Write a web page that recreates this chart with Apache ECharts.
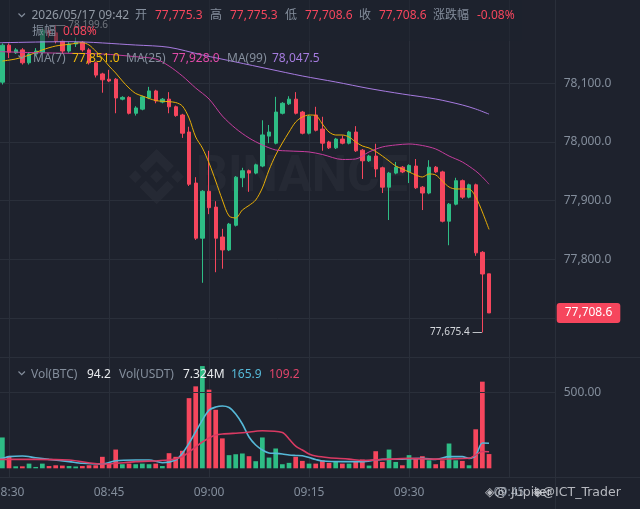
<!DOCTYPE html>
<html><head><meta charset="utf-8">
<script src="https://cdn.jsdelivr.net/npm/echarts@6/dist/echarts.min.js"></script>
<style>html,body{margin:0;padding:0;background:#1e222d;}#c{width:640px;height:509px;}</style>
</head><body><div id="c"></div>
<script>
const categories = ['08:28','08:29','08:30','08:31','08:32','08:33','08:34','08:35','08:36','08:37','08:38','08:39','08:40','08:41','08:42','08:43','08:44','08:45','08:46','08:47','08:48','08:49','08:50','08:51','08:52','08:53','08:54','08:55','08:56','08:57','08:58','08:59',
'09:00','09:01','09:02','09:03','09:04','09:05','09:06','09:07','09:08','09:09','09:10','09:11','09:12','09:13','09:14','09:15','09:16','09:17','09:18','09:19','09:20','09:21','09:22','09:23','09:24','09:25','09:26','09:27','09:28','09:29','09:30','09:31','09:32','09:33','09:34','09:35','09:36','09:37','09:38','09:39','09:40','09:41','09:42','09:43','09:44','09:45','09:46','09:47','09:48','09:49','09:50','09:51','09:52'];
// candles from 08:29 to 09:42
const opens = [78102,78165,78152,78157,78135,78150,78153,78190,78186,78172,
78155,78167,78170,78157,78135,78116,78107,78107,78073,78076,
78049,78056,78075,78087,78068,78073,78060,78046,78017,77930,
77836,77916,77889,77838,77816,77858,77939,77951,77947,77959,
78010,77998,78049,78065,78073,78051,78015,78046,78022,78000,
77990,78005,77998,78017,77986,77968,77976,77956,77923,77947,
77957,77949,77959,77923,77913,77957,77949,77865,77894,77934,
77906,77927,77812,77775.3];
const closes = [78165,78153,78157,78135,78150,78155,78190,78184,78172,78155,
78167,78170,78157,78135,78114,78106,78104,78075,78076,78049,
78058,78077,78087,78070,78073,78060,78045,78015,77928,77836,
77916,77888,77836,77816,77860,77940,77951,77947,77961,78012,
78017,78051,78066,78073,78049,78015,78044,78020,77998,77990,
78005,77998,78017,77985,77968,77976,77954,77923,77947,77957,
77949,77960,77922,77913,77957,77949,77865,77894,77934,77906,
77927,77811,77775,77708.6];
const lows = [78098,78143,78150,78132,78132,78146,78150,78178,78168,78150,
78152,78162,78154,78132,78110,78084,78102,78049,78071,78047,
78045,78054,78073,78066,78066,78049,78043,78007,77925,77833,
77760,77877,77778,77784,77814,77856,77923,77915,77945,77957,
77998,77996,78047,78063,78047,78013,78013,78018,77985,77988,
77988,77996,77996,77983,77937,77966,77940,77913,77867,77945,
77947,77930,77920,77884,77911,77947,77863,77824,77892,77903,
77904,77806,77675.4,77708.6];
const highs = [78168,78168,78160,78160,78152,78160,78194,78195,78199.6,78175,
78170,78178,78172,78160,78137,78118,78123,78109,78078,78078,
78061,78079,78094,78089,78075,78085,78062,78048,78026,77940,
77918,77985,77899,77852,77862,77942,77956,77953,77963,78037,
78029,78077,78068,78078,78085,78053,78046,78060,78043,78002,
78007,78011,78019,78027,77988,77978,77997,77958,77949,77966,
77959,77962,77971,77925,77969,77959,77951,77896,77939,77936,
77929,77929,77814,77775.3];
const volumes = [204,82,13,13,31,9,31,15,20,18,
15,12,15,20,20,76,31,124,27,31,
27,31,27,31,15,100,76,116,464,542,
676,520,387,198,87,93,98,80,47,204,
71,131,27,36,76,49,31,31,53,36,
42,31,31,42,58,18,113,42,124,42,
20,87,64,80,53,27,53,164,53,49,
20,258,573,94.2];
// moving-average lines: [category index, value]
const ma7 = [[1,78138],[3,78141.5],[5,78148],[7,78157],[9,78163.6],[11,78166.5],[13,78169.3],[14,78165.3],[15,78155],[16,78143],[17,78129.5],[18,78117.6],[19,78104],[20,78092],[21,78082.7],[22,78078.4],[24,78070.7],[26,78068.7],[27,78067.3],[28,78061.4],[29,78040.9],[30,78008.5],[31,77989.8],[32,77964.2],[33,77933.5],[34,77901.1],[35,77873.9],[36,77870.5],[37,77884.1],[38,77891.8],[39,77901.1],[40,77921.6],[41,77952.3],[42,77977.8],[43,77998.3],[44,78017],[45,78034.1],[46,78042.6],[47,78046],[48,78045.2],[49,78030.7],[50,78017],[51,78011.9],[52,78011.9],[53,78008.5],[54,78000],[55,77993.2],[56,77989.8],[57,77983.8],[58,77976.1],[59,77967.6],[60,77959.1],[61,77954],[62,77948.9],[63,77943.8],[64,77940.3],[65,77945.5],[66,77943.8],[67,77933.5],[68,77923.3],[69,77919.9],[70,77919.9],[71,77919.9],[72,77906.3],[73,77880.7],[74,77851.0]];
const ma25 = [[0,78154.5],[1,78153.9],[6,78152.2],[11,78151.2],[16,78150],[21,78145.4],[24,78141.5],[26,78129.5],[28,78112.5],[30,78092],[32,78073.3],[34,78044.3],[36,78023],[38,78006.8],[40,77994.9],[42,77986.4],[44,77984.7],[47,77983],[49,77978.7],[52,77970.2],[54,77971],[56,77983],[58,77991.5],[60,77994.9],[62,77996.6],[64,77994],[66,77988.1],[68,77976.1],[70,77965.9],[72,77950.6],[73,77940.3],[74,77928.0]];
const ma99 = [[0,78169],[1,78169.3],[11,78171],[21,78165.3],[26,78161.4],[31,78148.3],[36,78136.4],[41,78124.4],[46,78112.5],[51,78102.3],[56,78091.2],[61,78081.8],[66,78073.3],[70,78063.1],[72,78056.2],[74,78047.5]];
const volMaA = [[0,64],[1,66],[2,77],[4,81],[6,70],[8,59],[11,44],[13,33],[16,28],[18,50],[21,55],[23,55],[25,37],[27,55],[28,99],[29,165],[30,242],[31,319],[32,385],[33,405],[34,412],[35,402],[36,359],[37,293],[38,207],[39,154],[40,121],[41,101],[42,99],[43,95],[44,88],[45,85],[46,83],[47,71],[48,58],[49,48],[52,44],[55,44],[57,55],[58,59],[61,61],[64,66],[66,59],[68,77],[70,77],[71,66],[72,85],[73,167],[74,165.9]];
const volMaB = [[0,59],[1,59],[6,59],[11,55],[16,28],[21,44],[26,55],[28,77],[29,108],[30,141],[31,174],[32,200],[33,220],[34,227],[37,235],[40,248],[43,237],[44,194],[45,147],[46,121],[47,95],[48,81],[50,70],[53,61],[55,52],[58,58],[62,66],[66,61],[71,66],[72,88],[73,111],[74,109.2]];
const priceTicks = [77800, 77900, 78000, 78100];
const headerText = {date:'2026/05/17 09:42', change:'-0.08%', amplitude:'0.08%'};
const legendVals = {volBtc:'94.2', volUsdt:'7.324M', volMaA:'165.9', volMaB:'109.2'};

const UP = '#2EBD85', DOWN = '#F6465D';
const GRAY = '#848E9C', GRID = '#2a2f3a', BG = '#1e222d';
const FONT = "'Noto Sans','Noto Sans CJK SC',sans-serif";
const fmt = v => Number(v).toLocaleString('en-US', {minimumFractionDigits:1, maximumFractionDigits:1});
const isQuarter = (i, v) => /:(00|15|30|45)$/.test(v);

const candleData = [['-','-','-','-']].concat(opens.map((o, i) => [o, closes[i], lows[i], highs[i]]));
const volData = ['-'].concat(volumes.map((v, i) => ({value: v, itemStyle: {color: closes[i] >= opens[i] ? UP : DOWN}})));
const last = opens.length - 1;

function T(x, y, text, fill, size, family) {
  return {type:'text', x:x, y:y, silent:true, z:100,
    style:{text:text, fill:fill, fontSize:size||12, fontFamily:family||FONT, verticalAlign:'middle'}};
}
function chevron(y) {
  return {type:'polyline', silent:true, z:100, shape:{points:[[18.5,y-2.5],[21.7,y+0.7],[24.9,y-2.5]]}, style:{stroke:GRAY, lineWidth:1.2, fill:null}};
}
// watermark logo outline (decoration, 125-unit box)
const logoPolys = [
  [[38.2,53.2],[62.8,28.6],[87.4,53.2],[101.7,38.9],[62.8,0],[23.9,38.9]],
  [[0,62.8],[14.3,48.5],[28.6,62.8],[14.3,77.1]],
  [[38.2,72.3],[62.8,96.9],[87.4,72.3],[101.7,86.6],[62.8,125.5],[23.9,86.6]],
  [[96.2,62.8],[110.5,48.5],[124.8,62.8],[110.5,77.1]],
  [[77.3,62.8],[62.8,48.2],[48.3,62.7],[62.8,77.3]]
];
const WM = 'rgba(255,255,255,0.035)';
const graphics = logoPolys.map(p => ({type:'polygon', x:129, y:149, scaleX:0.44, scaleY:0.44, silent:true, z:-1, shape:{points:p}, style:{fill:WM}}));
graphics.push(
  {type:'text', x:196, y:178, silent:true, z:-1, style:{text:'BINANCE', fill:WM, fontSize:50, fontWeight:'bold', fontFamily:"Roboto, sans-serif", verticalAlign:'middle'}},
  {type:'line', silent:true, z:1, shape:{x1:555.5,y1:0,x2:555.5,y2:509}, style:{stroke:GRID, lineWidth:1}},
  {type:'line', silent:true, z:1, shape:{x1:0,y1:357.5,x2:640,y2:357.5}, style:{stroke:GRID, lineWidth:1}},
  {type:'line', silent:true, z:1, shape:{x1:0,y1:477.5,x2:640,y2:477.5}, style:{stroke:GRID, lineWidth:1}},
  {type:'rect', silent:true, z:50, shape:{x:0, y:0, width:522, height:41}, style:{fill:'rgba(30,34,45,0.55)'}},
  chevron(16),
  T(31.5, 16, headerText.date, '#929AA5'),
  T(135, 16, '开', GRAY), T(155, 16, fmt(opens[last]), DOWN),
  T(210, 16, '高', GRAY), T(230, 16, fmt(highs[last]), DOWN),
  T(285, 16, '低', GRAY), T(305, 16, fmt(lows[last]), DOWN),
  T(359, 16, '收', GRAY), T(379, 16, fmt(closes[last]), DOWN),
  T(433, 16, '涨跌幅', GRAY), T(477, 16, headerText.change, DOWN),
  T(32, 32, '振幅', GRAY), T(63, 32, headerText.amplitude, DOWN),
  chevron(58),
  T(33, 58.5, 'MA(7)', GRAY), T(72, 58.5, fmt(ma7[ma7.length-1][1]), '#F0B90B'),
  T(126, 58.5, 'MA(25)', GRAY), T(172, 58.5, fmt(ma25[ma25.length-1][1]), '#E04AA8'),
  T(227, 58.5, 'MA(99)', GRAY), T(272, 58.5, fmt(ma99[ma99.length-1][1]), '#A67CE0'),
  chevron(374),
  T(31, 374.5, 'Vol(BTC)', GRAY), T(87, 374.5, legendVals.volBtc, '#EAECEF'),
  T(119, 374.5, 'Vol(USDT)', GRAY), T(183, 374.5, legendVals.volUsdt, '#EAECEF'),
  T(231, 374.5, legendVals.volMaA, '#56B9D8'), T(269, 374.5, legendVals.volMaB, '#E0446A'),
  T(485, 493, '◈@ Jupiter', 'rgba(220,223,228,0.8)', 12.5, "'DejaVu Sans',sans-serif"),
  T(533, 493, '◈@ICT_Trader', 'rgba(220,223,228,0.8)', 12.5, "'DejaVu Sans',sans-serif")
);

const gridPos = {left:-4.3, right:84.3, containLabel:false, outerBoundsMode:'none'};
const option = {
  animation: false,
  backgroundColor: BG,
  textStyle: {fontFamily: FONT},
  grid: [
    Object.assign({top:0, bottom:32}, gridPos),
    Object.assign({top:24.66, bottom:152}, gridPos),
    Object.assign({top:357, bottom:32}, gridPos)
  ],
  xAxis: [0,1,2].map(g => ({
    type:'category', gridIndex:g, data:categories, boundaryGap:false,
    axisLine:{show:false}, axisTick:{show:false},
    axisLabel: g === 2 ? {show:true, interval:isQuarter, color:GRAY, fontSize:12, margin:10} : {show:false},
    splitLine: g === 0 ? {show:true, interval:isQuarter, lineStyle:{color:GRID, width:1}} : {show:false}
  })),
  yAxis: [
    {type:'value', gridIndex:0, show:false, min:0, max:1},
    {type:'value', gridIndex:1, position:'right', min:77633.5, max:78200, minInterval:100, maxInterval:100, splitNumber:6,
      axisLine:{show:false}, axisTick:{show:false},
      axisLabel:{color:GRAY, fontSize:12, margin:8, showMinLabel:false, showMaxLabel:false,
        formatter: v => priceTicks.indexOf(v) >= 0 ? fmt(v) : ''},
      splitLine:{show:true, showMinLine:false, showMaxLine:false, lineStyle:{color:GRID, width:1}}},
    {type:'value', gridIndex:2, position:'right', min:-57.5, max:736.1, minInterval:500, maxInterval:500,
      axisLine:{show:false}, axisTick:{show:false},
      axisLabel:{color:GRAY, fontSize:12, margin:8, showMinLabel:false, showMaxLabel:false, formatter: v => v === 500 ? '500.00' : ''},
      splitLine:{show:false}}
  ],
  series: [
    {type:'candlestick', xAxisIndex:1, yAxisIndex:1, data:candleData, barWidth:3.8,
      itemStyle:{color:UP, color0:DOWN, borderColor:UP, borderColor0:DOWN, borderWidth:1},
      markPoint:{symbol:'circle', symbolSize:0.1, itemStyle:{color:'rgba(0,0,0,0)'}, animation:false,
        label:{show:true, color:'#D5D8DD', fontSize:10, fontFamily:FONT},
        data:[
          {type:'max', valueDim:'highest', label:{position:'right', distance:0, formatter: p => '— ' + fmt(p.value)}},
          {type:'min', valueDim:'lowest', label:{position:'left', distance:0, formatter: p => fmt(p.value) + ' —'}}
        ]},
      markLine:{silent:true, symbol:['none','none'], animation:false,
        lineStyle:{color:'rgba(0,0,0,0)'},
        label:{show:true, position:'end', distance:1, formatter: () => fmt(closes[last]), color:'#ffffff', backgroundColor:DOWN,
          padding:[4,8,4,8], borderRadius:3, fontSize:12, fontFamily:FONT},
        data:[{yAxis: closes[last]}]}
    },
    {type:'line', name:'MA7', xAxisIndex:1, yAxisIndex:1, data:ma7, smooth:0.3, showSymbol:false, connectNulls:true, lineStyle:{color:'#E8AE06', width:1}, z:3},
    {type:'line', name:'MA25', xAxisIndex:1, yAxisIndex:1, data:ma25, smooth:0.3, showSymbol:false, connectNulls:true, lineStyle:{color:'#C63E9E', width:1}, z:3},
    {type:'line', name:'MA99', xAxisIndex:1, yAxisIndex:1, data:ma99, smooth:0.3, showSymbol:false, connectNulls:true, lineStyle:{color:'#A77BE0', width:1}, z:3},
    {type:'bar', xAxisIndex:2, yAxisIndex:2, data:volData, barWidth:4.7,
      markLine:{silent:true, symbol:['none','none'], animation:false, label:{show:false},
        lineStyle:{color:GRID, width:1, type:'solid'}, data:[{yAxis:500}]}},
    {type:'line', xAxisIndex:2, yAxisIndex:2, data:volMaA, smooth:0.3, showSymbol:false, lineStyle:{color:'#56B9D8', width:1.6}, z:3},
    {type:'line', xAxisIndex:2, yAxisIndex:2, data:volMaB, smooth:0.3, showSymbol:false, lineStyle:{color:'#D93A63', width:1.6}, z:3}
  ],
  graphic: graphics
};
const chart = echarts.init(document.getElementById('c'), null, {renderer:'canvas'});
chart.setOption(option);
</script></body></html>
